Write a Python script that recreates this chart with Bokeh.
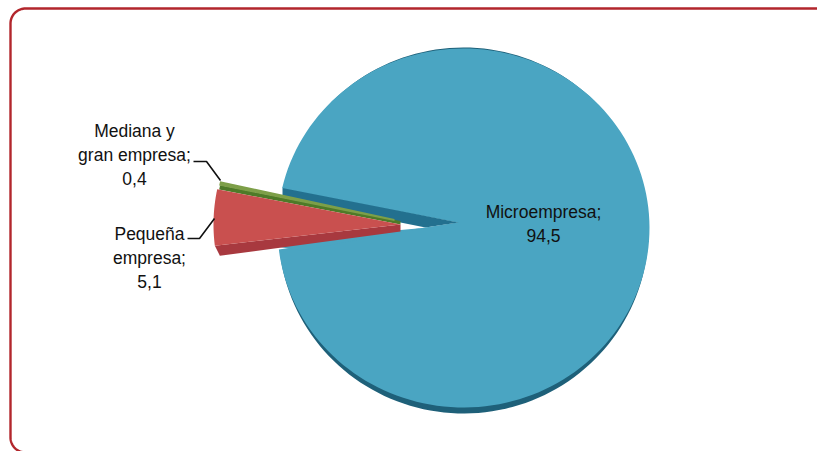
import numpy as np
from bokeh.plotting import figure
from bokeh.models import Range1d, ColumnDataSource
from bokeh.core.properties import value
from bokeh.embed import file_html
from bokeh.resources import INLINE

categories = ["Microempresa", "Pequeña empresa", "Mediana y gran empresa"]
shares = [94.5, 5.1, 0.4]
labels = ["Microempresa;\n94,5", "Pequeña\nempresa;\n5,1", "Mediana y\ngran empresa;\n0,4"]

W, H = 817, 451
p = figure(width=W, height=H, x_range=Range1d(0, W), y_range=Range1d(H, 0),
           toolbar_location=None, output_backend="svg", min_border=0,
           outline_line_color=None, background_fill_color="white")
p.axis.visible = False
p.grid.visible = False

sweeps = np.array(shares) / sum(shares) * 360.0
TOP = 12.9  # angle (deg above the leftward axis) at which the small slices begin
green_a0, green_a1 = TOP, TOP - sweeps[2]
red_a0, red_a1 = green_a1, green_a1 - sweeps[1]
blue_a0 = TOP - sweeps[1] - sweeps[2]
blue_a1 = blue_a0 - sweeps[0]


def arc(cx, cy, rx, ry, a0, a1, n=160):
    t = np.radians(np.linspace(a0, a1, n))
    return cx - rx * np.cos(t), cy - ry * np.sin(t)


def sector(apex, cx, cy, rx, ry, a0, a1):
    x, y = arc(cx, cy, rx, ry, a0, a1)
    return np.r_[apex[0], x], np.r_[apex[1], y]


# frame
R = 15
ax, ay = arc(10 + R, 8 + R, R, R, 90, 0, 20)
bx, by = arc(10 + R, 452 - R, R, R, 0, -80, 20)
p.line(np.r_[817, ax, bx], np.r_[8, ay, by], line_color="#b2262c", line_width=2.4)

# big slice: depth, wall, top surface
CX, CY, RX, RY = 463, 227.5, 186, 179.5
BLUE_APEX = (458, 222)
dx, dy = sector(BLUE_APEX, CX, CY + 2.5, RX - 1, RY + 3.5, blue_a0, blue_a1)
p.patch(dx, dy, fill_color="#1e6079", line_color=None)
p.patch([282, 458, 425, 400, 282], [187, 222, 227, 222, 195], fill_color="#23708f", line_color=None)
tx, ty = sector(BLUE_APEX, CX, CY, RX, RY, blue_a0, blue_a1)
p.patch(tx, ty, fill_color="#4aa5c2", line_color=None)
p.patch([276, 400, 425, 300], [246, 229.5, 227.3, 250], fill_color="#4aa5c2", line_color=None)

# green slice
GA = (400, 220)
GR = 181 / np.cos(np.radians(12))
gx, gy = arc(GA[0], GA[1], GR, GR * 0.95, green_a0, green_a1)
p.patch(np.r_[GA[0], gx, GA[0]], np.r_[GA[1] + 0.5, gy + 4, GA[1] + 4], fill_color="#4e7a28", line_color=None)
p.patch(np.r_[GA[0] - 6, gx, GA[0] - 6], np.r_[GA[1] - 1.5, gy, GA[1] + 0.5], fill_color="#7d9f48", line_color=None)

# red slice
RA = (400, 224)
rx_, ry_ = sector(RA, RA[0], RA[1], 187, 187 * 0.95, red_a0, red_a1)
p.patch([RA[0], rx_[-1], rx_[-1] + 5, RA[0]], [RA[1], ry_[-1], ry_[-1] + 10, RA[1] + 7],
        fill_color="#a8393f", line_color=None)
p.patch(rx_, ry_, fill_color="#c9504f", line_color=None)

# leader lines
p.line([193, 206, 220], [161, 161, 180], line_color="#111111", line_width=1.6)
p.line([187, 199, 214], [238, 238, 218], line_color="#111111", line_width=1.6)

# labels
src = ColumnDataSource(dict(x=[543, 149, 134], y=[223, 257, 154], t=labels))
p.text("x", "y", text="t", source=src, text_font=value("Liberation Sans"),
       text_font_size="17.5px", text_color="#111111", text_align="center",
       text_baseline="middle", text_line_height=1.2)

open("out.html", "w").write(file_html(p, INLINE))
